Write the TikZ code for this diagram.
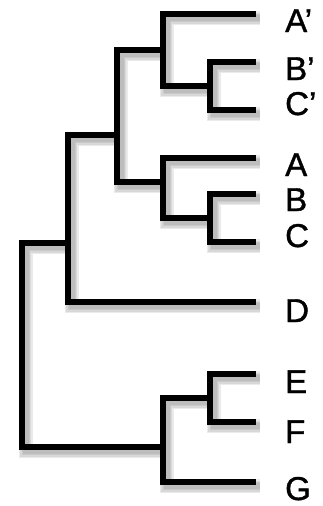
\documentclass[tikz,border=0pt]{standalone}
\usepackage{fontspec}
\setmainfont{Liberation Sans}
\newfontfamily\labelfont[FakeBold=1.2]{Liberation Sans}
\begin{document}
\begin{tikzpicture}[x=1pt,y=-1pt,
  branch/.style={line width=6pt,line join=miter,line cap=butt,black},
  halo/.style={line width=#1,line join=miter,line cap=butt,gray,opacity=0.16},
  leaf/.style={anchor=base west,inner sep=0pt,font=\labelfont\fontsize{33}{33}\selectfont}]
\useasboundingbox[fill=white] (0,0) rectangle (322,506);

% leaf tips
\coordinate (tA1) at (256,14);
\coordinate (tB1) at (256,62);
\coordinate (tC1) at (256,110);
\coordinate (tA)  at (256,158);
\coordinate (tB)  at (256,194);
\coordinate (tC)  at (256,242);
\coordinate (tD)  at (256,302);
\coordinate (tE)  at (256,374);
\coordinate (tF)  at (256,422);
\coordinate (tG)  at (256,482);

% internal nodes: (x of the vertical bar, y where the parent joins)
\coordinate (n4) at (210,86);
\coordinate (n3) at (163,50);
\coordinate (n6) at (210,218);
\coordinate (n5) at (163,182);
\coordinate (n2) at (117,135);
\coordinate (n1) at (68,243);
\coordinate (n8) at (210,398);
\coordinate (n7) at (163,447);
\coordinate (r0) at (22,345);

\newcommand\treepath{%
  (tB1) -| (n4) |- (tC1)
  (tA1) -| (n3) |- (n4)
  (tB) -| (n6) |- (tC)
  (tA) -| (n5) |- (n6)
  (n3) -| (n2) |- (n5)
  (n2) -| (n1) |- (tD)
  (tE) -| (n8) |- (tF)
  (n8) -| (n7) |- (tG)
  (n1) -| (r0) |- (n7)}

% soft drop shadow
\begin{scope}[transform canvas={shift={(3.5pt,-4pt)}}]
  \foreach \w in {14,11,8,6}{\draw[halo=\w pt] \treepath;}
\end{scope}

% branches
\draw[branch] \treepath;

% labels
\node[leaf] (lA1) at (285,32)  {A’};
\node[leaf] (lB1) at (285,80)  {B’};
\node[leaf] (lC1) at (285,115) {C’};
\node[leaf] (lA)  at (285,176) {A};
\node[leaf] (lB)  at (285,211) {B};
\node[leaf] (lC)  at (285,247) {C};
\node[leaf] (lD)  at (285,322) {D};
\node[leaf] (lE)  at (285,393) {E};
\node[leaf] (lF)  at (285,443) {F};
\node[leaf] (lG)  at (285,500) {G};
\end{tikzpicture}
\end{document}
